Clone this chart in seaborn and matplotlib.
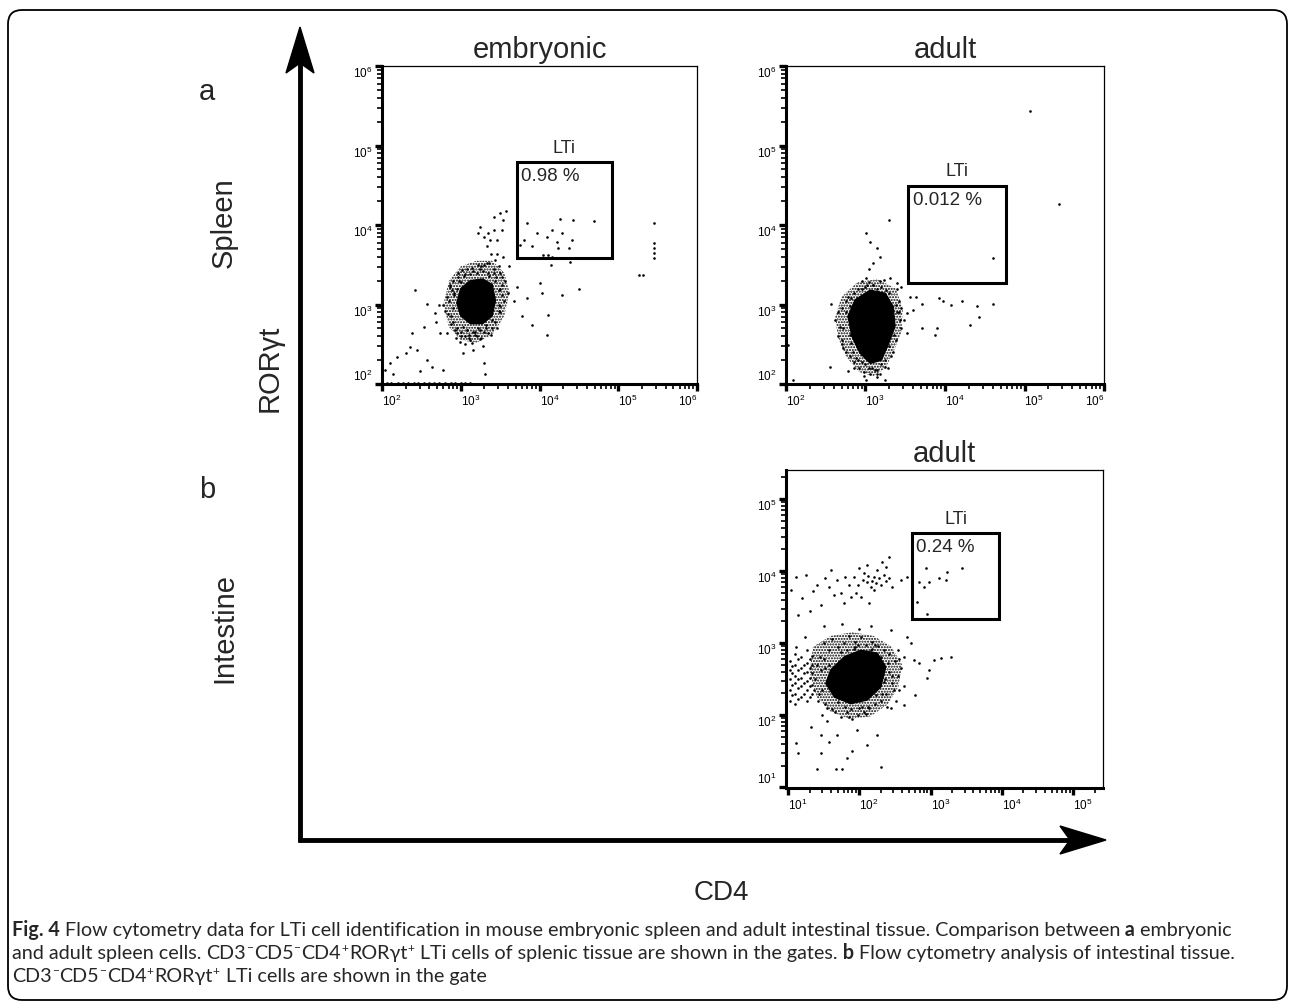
import numpy as np
import matplotlib.pyplot as plt
import seaborn as sns
from matplotlib.patches import Rectangle, Polygon, FancyBboxPatch
from matplotlib.ticker import LogLocator

W, H = 1290, 1002

# all values are log10 intensities
# (x = CD4, y = RORgt); "core" outlines the solid black centre of each cloud,
# "mid" the densely dotted zone around it

spleen_decades = [2, 3, 4, 5, 6]
gut_decades = [1, 2, 3, 4, 5]

# --- embryonic spleen
emb_core = [(3.00, 3.20), (3.12, 3.30), (3.28, 3.32), (3.40, 3.25), (3.44, 3.05),
            (3.40, 2.86), (3.28, 2.76), (3.12, 2.76), (3.00, 2.86), (2.95, 3.02)]
emb_mid = [(2.78, 3.00), (2.85, 3.30), (3.00, 3.48), (3.20, 3.55), (3.40, 3.55), (3.55, 3.40),
           (3.62, 3.15), (3.55, 2.85), (3.40, 2.62), (3.20, 2.52), (3.00, 2.55), (2.85, 2.72)]
emb_halo = [(2.85, 3.05), (2.9, 2.95), (2.95, 3.2), (3.0, 3.28), (2.88, 2.85), (2.92, 3.12),
            (3.05, 3.38), (3.1, 2.62), (3.15, 3.42), (3.2, 2.6), (3.25, 3.45), (3.3, 2.65),
            (3.35, 3.4), (3.4, 2.7), (3.45, 3.35), (3.5, 3.2), (3.55, 3.05), (2.95, 2.7),
            (3.0, 2.6), (3.05, 2.5), (3.12, 2.55), (3.18, 2.66), (3.26, 2.58), (3.32, 2.7),
            (3.38, 2.62), (3.44, 2.78), (3.5, 2.9), (3.56, 3.3), (3.6, 3.15), (2.9, 2.78),
            (2.97, 3.35), (3.03, 2.72), (3.08, 3.45), (3.14, 2.52), (3.22, 3.5), (3.28, 2.48),
            (3.36, 3.52), (3.42, 3.4), (3.48, 3.0), (3.52, 3.25),
            (2.80, 2.92), (2.83, 3.10), (2.87, 2.75), (2.90, 3.30), (2.93, 2.68), (2.96, 3.40),
            (3.00, 2.65), (3.04, 3.36), (3.08, 2.68), (3.12, 3.38), (3.16, 2.66), (3.20, 3.40),
            (3.24, 2.68), (3.28, 3.42), (3.32, 2.74), (3.36, 3.36), (3.40, 2.80), (3.44, 3.30),
            (3.48, 2.92), (3.52, 3.12), (2.78, 3.00), (2.86, 3.22), (2.94, 2.58), (3.02, 3.44),
            (3.10, 2.58), (3.18, 2.62), (3.26, 3.48), (3.34, 2.64), (3.42, 3.45), (3.50, 2.98),
            (3.46, 2.70), (3.53, 3.35), (3.49, 3.18), (2.84, 2.88), (2.89, 3.18), (2.98, 3.30),
            (3.06, 2.60), (3.14, 3.46), (3.22, 2.70), (3.30, 3.50)]
emb_sparse = [(3.25, 3.98), (3.35, 3.90), (3.42, 3.94), (3.46, 3.81), (3.50, 4.15), (3.54, 4.06),
              (3.39, 3.64), (3.33, 3.73), (3.44, 3.56), (3.48, 3.48), (3.29, 3.85), (3.22, 3.90),
              (3.42, 4.10), (3.58, 4.17), (3.52, 3.94), (3.37, 3.81), (3.46, 3.64), (3.54, 3.60),
              (3.50, 3.39), (3.61, 3.48), (3.33, 3.52),
              (3.71, 4.13), (3.84, 4.02), (3.80, 3.81), (3.90, 3.73), (3.97, 3.90), (4.09, 3.85),
              (4.11, 3.62), (4.16, 3.94), (4.22, 3.79), (4.24, 3.71), (4.26, 4.08), (4.43, 4.06),
              (4.69, 4.05), (4.37, 3.71), (4.41, 3.81), (4.05, 3.62), (3.75, 3.75), (4.16, 3.60),
              (4.28, 3.90),
              (5.45, 4.03), (5.45, 3.77), (5.45, 3.71), (5.45, 3.65), (5.45, 3.58), (5.26, 3.37),
              (5.32, 3.37), (4.14, 3.50), (4.39, 3.54), (4.28, 3.12), (4.50, 3.20), (4.01, 3.27),
              (4.03, 3.14), (4.11, 2.87), (4.09, 2.62), (3.90, 2.74), (3.78, 2.85), (3.84, 3.08),
              (3.71, 3.22), (3.67, 3.04),
              (2.42, 3.18), (2.57, 3.01), (2.72, 2.99), (2.69, 2.78), (2.86, 3.25), (2.91, 3.14),
              (2.74, 2.64), (2.67, 2.89), (2.36, 2.47), (2.44, 2.43), (2.31, 2.39), (2.19, 2.34),
              (2.10, 2.26), (2.04, 2.18), (2.14, 2.13), (2.57, 2.30), (2.78, 2.18), (2.63, 2.22),
              (2.99, 2.53), (3.03, 2.39), (3.16, 2.43), (3.25, 2.57), (3.29, 2.26), (3.31, 2.13),
              (2.48, 2.16), (2.82, 2.64), (2.53, 2.72), (2.38, 2.64), (2.95, 2.64), (3.08, 2.68),
              (2.06, 2.01), (2.12, 2.01), (2.20, 2.01), (2.27, 2.01), (2.33, 2.01), (2.40, 2.01),
              (2.46, 2.01), (2.53, 2.01), (2.60, 2.01), (2.66, 2.01), (2.72, 2.01), (2.80, 2.01),
              (2.87, 2.01), (2.93, 2.01), (3.00, 2.01), (3.06, 2.01), (3.12, 2.01)]
emb_gate = (3.71, 4.92, 3.58, 4.79)  # x0, x1, y0, y1

# --- adult spleen
ad_core = [(2.87, 3.06), (3.06, 3.18), (3.25, 3.14), (3.35, 2.97), (3.37, 2.72), (3.29, 2.51),
           (3.20, 2.30), (3.06, 2.26), (2.93, 2.39), (2.83, 2.60), (2.78, 2.85)]
ad_mid = [(2.62, 2.85), (2.70, 3.10), (2.90, 3.28), (3.15, 3.32), (3.38, 3.20), (3.47, 2.95),
          (3.45, 2.65), (3.35, 2.40), (3.25, 2.20), (3.10, 2.10), (2.92, 2.15), (2.75, 2.35),
          (2.65, 2.60)]
ad_halo = [(2.62, 2.80), (2.65, 2.60), (2.70, 2.95), (2.72, 2.45), (2.75, 3.05), (2.68, 2.72),
           (2.80, 2.35), (2.85, 3.15), (2.90, 2.30), (2.95, 3.20), (3.00, 2.25), (3.05, 2.20),
           (3.10, 3.25), (3.15, 2.18), (3.20, 3.22), (3.25, 2.30), (3.30, 3.15), (3.35, 2.40),
           (3.40, 2.90), (3.42, 3.05), (3.45, 2.70), (3.38, 2.55), (3.30, 2.60), (3.22, 2.45),
           (3.15, 2.12), (2.98, 2.15), (2.90, 2.45), (2.82, 2.52), (2.76, 2.90), (2.70, 2.50),
           (3.45, 2.95), (3.48, 2.80), (3.40, 3.20), (2.80, 2.98), (2.88, 2.58), (3.12, 2.38),
           (3.18, 3.30), (3.28, 2.20), (2.95, 3.30), (3.05, 3.28),
           (2.66, 2.90), (2.72, 2.70), (2.78, 3.10), (2.84, 2.40), (2.90, 3.20), (2.96, 2.28),
           (3.02, 3.24), (3.08, 2.20), (3.14, 3.20), (3.20, 2.25), (3.26, 3.18), (3.32, 2.35),
           (3.38, 3.00), (3.44, 2.80), (2.70, 2.55), (2.76, 2.40), (2.82, 3.08), (2.88, 2.33),
           (3.36, 2.62), (3.42, 2.90), (3.30, 2.48), (3.24, 2.22), (3.18, 2.12), (3.12, 2.18),
           (2.98, 2.10), (2.92, 2.20), (2.86, 2.28), (2.80, 2.62), (3.10, 3.25), (3.00, 3.22)]
ad_sparse = [(3.29, 4.06), (3.01, 3.90), (3.06, 3.79), (3.14, 3.71), (3.10, 3.52), (3.18, 3.60),
             (5.07, 5.43), (5.43, 4.27), (4.61, 3.59), (3.92, 3.08), (3.98, 3.04), (4.08, 2.99),
             (4.21, 3.04), (4.40, 2.98), (4.61, 3.01), (4.31, 2.74), (4.43, 2.84), (3.90, 2.70),
             (3.88, 2.62), (3.71, 2.70), (3.71, 3.01), (3.56, 3.10), (3.64, 3.10), (3.60, 2.93),
             (3.52, 2.64), (2.55, 2.22), (2.57, 3.01), (2.03, 2.49), (2.09, 2.05), (3.45, 3.22),
             (3.31, 3.33), (3.39, 3.27), (3.23, 3.31), (3.01, 3.33), (3.52, 2.89), (3.05, 3.45),
             (3.01, 2.05), (3.14, 2.09), (3.25, 2.05), (3.06, 2.13), (2.85, 2.20), (2.78, 2.16)]
ad_gate = (3.54, 4.77, 3.27, 4.49)

# --- adult intestine
gut_core = [(1.60, 2.63), (1.79, 2.81), (2.02, 2.90), (2.25, 2.86), (2.37, 2.67),
            (2.30, 2.39), (2.11, 2.21), (1.88, 2.16), (1.65, 2.25), (1.53, 2.44)]
gut_mid = [(1.35, 2.95), (1.60, 3.10), (1.90, 3.15), (2.20, 3.10), (2.45, 2.95), (2.60, 2.70),
           (2.55, 2.40), (2.40, 2.15), (2.15, 1.98), (1.85, 1.95), (1.60, 2.05), (1.40, 2.25),
           (1.30, 2.60)]
gut_halo = [(1.38, 2.50), (1.42, 2.20), (1.45, 2.80), (1.48, 2.35), (1.50, 3.00), (1.52, 2.65),
            (1.55, 2.10), (1.58, 2.90), (1.60, 2.40), (1.62, 3.05), (1.66, 2.05), (1.70, 2.95),
            (1.74, 1.98), (1.78, 3.00), (1.82, 2.05), (1.86, 3.10), (1.90, 1.95), (1.94, 3.02),
            (1.98, 2.00), (2.02, 3.08), (2.06, 2.05), (2.10, 2.98), (2.14, 2.10), (2.18, 3.02),
            (2.22, 2.15), (2.26, 2.96), (2.30, 2.20), (2.34, 2.90), (2.38, 2.30), (2.42, 2.85),
            (2.46, 2.45), (2.50, 2.75), (2.54, 2.55), (2.58, 2.65), (2.62, 2.40), (1.40, 2.70),
            (1.46, 2.62), (1.52, 2.15), (1.58, 2.70), (1.64, 2.55), (1.70, 2.18), (1.76, 2.60),
            (1.82, 2.90), (1.88, 2.08), (1.94, 2.95), (2.00, 2.10), (2.06, 2.88), (2.12, 2.12),
            (2.18, 2.92), (2.24, 2.28), (2.30, 2.80), (2.36, 2.50), (2.42, 2.60), (2.48, 2.35),
            (2.54, 2.90), (1.44, 2.30), (1.56, 2.48), (1.68, 2.38), (1.80, 2.12), (1.92, 2.92),
            (2.04, 2.12), (2.16, 2.90), (2.28, 2.60), (2.40, 2.72), (2.52, 2.20), (1.50, 2.78),
            (1.62, 2.08), (1.74, 2.88), (1.86, 1.98), (1.98, 2.98), (2.10, 2.02), (2.22, 2.98),
            (2.34, 2.46), (2.46, 2.55), (1.36, 2.35), (1.48, 2.00), (2.44, 2.10), (2.56, 2.78),
            (1.54, 1.92), (2.32, 2.30),
            (1.03, 2.20), (1.03, 2.35), (1.03, 2.50), (1.03, 2.62), (1.03, 2.75),
            (1.06, 2.28), (1.06, 2.42), (1.06, 2.58), (1.06, 2.68),
            (1.10, 2.15), (1.10, 2.30), (1.10, 2.45), (1.10, 2.55), (1.10, 2.70), (1.10, 2.85),
            (1.14, 2.22), (1.14, 2.38), (1.14, 2.50), (1.14, 2.62), (1.14, 2.78),
            (1.18, 2.25), (1.18, 2.40), (1.18, 2.52), (1.18, 2.65), (1.18, 2.80),
            (1.22, 2.30), (1.22, 2.45), (1.22, 2.58), (1.22, 2.70),
            (1.26, 2.20), (1.26, 2.35), (1.26, 2.48), (1.26, 2.60), (1.26, 2.72), (1.26, 2.90),
            (1.30, 2.25), (1.30, 2.40), (1.30, 2.52), (1.30, 2.66), (1.30, 2.78),
            (1.34, 2.30), (1.34, 2.42), (1.34, 2.58), (1.34, 2.70), (1.34, 2.82)]
gut_sparse = [(1.11, 3.92), (1.25, 3.94), (1.41, 3.81), (1.58, 3.78), (1.69, 3.88), (1.74, 3.69),
              (1.86, 3.81), (1.93, 3.92), (2.00, 4.04), (2.07, 3.97), (2.11, 3.85), (2.16, 3.78),
              (2.21, 3.92), (2.25, 4.01), (2.30, 3.81), (2.37, 4.06), (2.42, 3.90), (1.88, 3.64),
              (2.02, 3.64), (2.14, 3.55), (1.79, 3.55), (1.46, 3.53), (1.30, 3.44), (1.14, 3.39),
              (1.04, 3.74), (1.60, 4.01), (2.58, 3.88), (2.67, 3.92), (2.74, 3.81), (2.84, 3.85),
              (2.91, 3.78), (2.98, 3.85), (3.12, 3.90), (3.21, 3.88), (3.23, 3.99), (3.44, 4.04),
              (2.93, 4.04), (2.81, 3.57), (2.95, 3.40), (2.46, 3.78), (2.42, 4.20), (2.32, 4.13),
              (2.11, 4.08), (2.05, 3.88), (2.18, 3.86), (2.24, 3.83), (2.28, 3.90), (2.12, 3.93),
              (1.98, 3.80), (2.34, 3.95), (2.20, 3.74), (1.95, 3.70), (2.38, 3.86), (1.80, 3.92),
              (1.52, 3.90), (1.35, 3.72), (1.20, 3.62), (1.64, 3.66),
              (1.11, 1.61), (1.14, 1.47), (1.41, 1.26), (1.46, 1.47), (1.58, 1.63), (1.67, 1.26),
              (1.76, 1.26), (2.30, 1.28), (2.11, 1.58), (2.25, 1.72), (1.69, 1.72), (1.90, 1.51),
              (1.97, 1.79), (1.46, 1.72), (1.32, 1.84), (1.83, 1.40),
              (2.63, 2.81), (2.77, 2.76), (2.84, 2.72), (2.98, 2.63), (3.05, 2.76), (3.14, 2.79),
              (3.28, 2.80), (2.95, 2.51), (2.78, 2.28), (2.63, 2.14), (2.56, 2.35), (2.39, 2.12),
              (2.72, 3.00), (2.67, 3.09), (2.44, 3.18), (2.16, 3.23), (2.00, 3.20), (1.76, 3.27),
              (1.51, 3.23), (1.23, 3.09), (1.11, 2.95)]
gut_gate = (2.74, 3.96, 3.34, 4.52)

sns.set_style('ticks')
plt.rcParams['font.family'] = ['Liberation Sans', 'DejaVu Sans']
plt.rcParams['axes.edgecolor'] = 'black'
plt.rcParams['xtick.color'] = 'black'
plt.rcParams['ytick.color'] = 'black'
plt.rcParams['hatch.linewidth'] = 1.0

fig = plt.figure(figsize=(W / 100, H / 100), dpi=100)

# full-figure layer in pixel units for the arrows, labels and caption
bg = fig.add_axes([0, 0, 1, 1], zorder=-1)
bg.set_xlim(0, W)
bg.set_ylim(H, 0)
bg.axis('off')


def panel(px, title, lim_x, lim_y, decades, core, mid, halo, sparse, gate, pct, last_right):
    x0, y0, x1, y1 = px
    ax = fig.add_axes([x0 / W, 1 - y1 / H, (x1 - x0) / W, (y1 - y0) / H])
    ax.set_xscale('log')
    ax.set_yscale('log')

    mx, my = np.array(mid).T
    ax.fill(10 ** mx, 10 ** my, facecolor='none', edgecolor='black', hatch='......',
            lw=0, zorder=1)
    cx, cy = np.array(core).T
    ax.fill(10 ** cx, 10 ** cy, color='black', lw=1, zorder=2)
    pts = np.array(halo + sparse)
    sns.scatterplot(x=10 ** pts[:, 0], y=10 ** pts[:, 1], ax=ax, s=3.5, color='black',
                    linewidth=0, zorder=3)

    gx0, gx1, gy0, gy1 = gate
    ax.add_patch(Rectangle((10 ** gx0, 10 ** gy0), 10 ** gx1 - 10 ** gx0, 10 ** gy1 - 10 ** gy0,
                           fill=False, ec='black', lw=2.2, zorder=4))
    ax.annotate('LTi', xy=(10 ** ((gx0 + gx1) / 2), 10 ** gy1), xytext=(0, 4),
                textcoords='offset points', ha='center', va='bottom', fontsize=13)
    ax.annotate(pct, xy=(10 ** gx0, 10 ** gy1), xytext=(3, -4),
                textcoords='offset points', ha='left', va='top', fontsize=13.5)

    ax.set_xlim(10 ** lim_x[0], 10 ** lim_x[1])
    ax.set_ylim(10 ** lim_y[0], 10 ** lim_y[1])
    ticks = [10.0 ** d for d in decades]
    labels = [r'$\mathregular{10^{%d}}$' % d for d in decades]
    ax.set_xticks(ticks, labels)
    ax.set_yticks(ticks, labels)
    for axis in (ax.xaxis, ax.yaxis):
        axis.set_minor_locator(LogLocator(base=10, subs=np.arange(2, 10), numticks=50))
    ax.tick_params(which='major', direction='out', length=5, width=2.4, labelsize=8.5, pad=2)
    ax.tick_params(which='minor', direction='out', length=3.5, width=1.2)

    for i, lab in enumerate(ax.get_yticklabels()):
        lab.set_verticalalignment('bottom' if i == 0 else 'top')
    xl = ax.get_xticklabels()
    for lab in xl:
        lab.set_horizontalalignment('left')
    if last_right:
        xl[-1].set_horizontalalignment('right')

    for side in ('top', 'right'):
        ax.spines[side].set_linewidth(0.9)
    for side in ('left', 'bottom'):
        ax.spines[side].set_linewidth(2.2)

    ax.set_title(title, fontsize=21, pad=6)
    return ax


panel((382, 66, 697, 384), 'embryonic', (2, 6), (2, 6), spleen_decades,
      emb_core, emb_mid, emb_halo, emb_sparse, emb_gate, '0.98 %', True)
panel((786, 66, 1104, 384), 'adult', (2, 6), (2, 6), spleen_decades,
      ad_core, ad_mid, ad_halo, ad_sparse, ad_gate, '0.012 %', True)
panel((786, 470, 1103, 788), 'adult', (0.97, 5.42), (0.99, 5.40), gut_decades,
      gut_core, gut_mid, gut_halo, gut_sparse, gut_gate, '0.24 %', False)

# big axis arrows
bg.plot([300, 300], [842, 62], color='black', lw=3.5, solid_capstyle='butt')
bg.plot([298, 1070], [840, 840], color='black', lw=3.5, solid_capstyle='butt')
bg.add_patch(Polygon([(300, 27), (286, 73), (300, 63), (314, 73)], closed=True, color='black'))
bg.add_patch(Polygon([(1106, 840), (1060, 826), (1070, 840), (1060, 854)], closed=True, color='black'))

bg.text(207, 92, 'a', fontsize=21, ha='center', va='center')
bg.text(207, 490, 'b', fontsize=21, ha='center', va='center')
bg.text(224, 223, 'Spleen', fontsize=21, rotation=90, ha='center', va='center')
bg.text(224, 628, 'Intestine', fontsize=21, rotation=90, ha='center', va='center')
bg.text(270, 368, 'RORγt', fontsize=21, rotation=90, ha='center', va='center')
bg.text(721, 893, 'CD4', fontsize=20, ha='center', va='center')

bg.add_patch(FancyBboxPatch((8, 10), 1279, 990, boxstyle='round,pad=0,rounding_size=14',
                            fill=False, ec='black', lw=1.3))

# caption, pieces laid end to end so bold words and superscripts sit inline
renderer = fig.canvas.get_renderer()
cap_font = ['Lato', 'DejaVu Sans']
CAP = 14.2


def caption_line(x, y, parts):
    for txt, style in parts:
        size = CAP * 0.6 if style == 's' else CAP
        base = y - 7 if style == 's' else y
        t = bg.text(x, base, txt, fontsize=size, family=cap_font, va='baseline', ha='left',
                    fontweight='bold' if style == 'b' else 'normal')
        x += t.get_window_extent(renderer=renderer).width + (1 if style == 's' else 0)


marker = [('CD3', 'n'), ('−', 's'), ('CD5', 'n'), ('−', 's'), ('CD4', 'n'), ('+', 's'),
          ('RORγt', 'n'), ('+', 's')]
caption_line(12, 936, [('Fig. 4', 'b'),
                       (' Flow cytometry data for LTi cell identification in mouse embryonic spleen '
                        'and adult intestinal tissue. Comparison between', 'n'),
                       (' a', 'b'), (' embryonic', 'n')])
caption_line(12, 959, [('and adult spleen cells. ', 'n')] + marker +
             [(' LTi cells of splenic tissue are shown in the gates.', 'n'),
              (' b', 'b'), (' Flow cytometry analysis of intestinal tissue.', 'n')])
caption_line(12, 982, marker + [(' LTi cells are shown in the gate', 'n')])

fig.savefig('out.png', dpi=100)
